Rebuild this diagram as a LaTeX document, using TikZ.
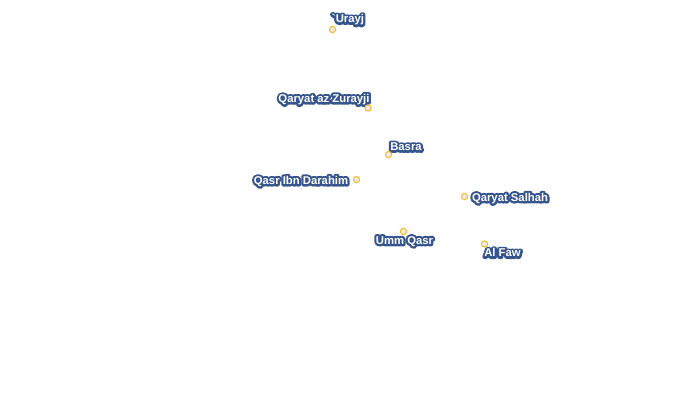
\documentclass[tikz,border=0pt]{standalone}
\usepackage{fontspec}
\setmainfont{Liberation Sans}[Ligatures=TeXOff]
\definecolor{ring}{HTML}{F7BC28}
\definecolor{dotfill}{HTML}{ECECF0}
% stroked copy under the white text
\newcommand{\placename}[1]{\rlap{\special{pdf:code q 1 Tr 4.5 w 1 j 1 J 0.212 0.333 0.549 RG 0.212 0.333 0.549 rg}#1\special{pdf:code 0 Tr Q}}#1}
\tikzset{
  town/.style={circle,draw=ring,fill=dotfill,line width=1.1pt,inner sep=0pt,minimum size=6.2pt},
  townlabel/.style={inner sep=0pt,text=white,font=\bfseries\fontsize{11.3}{12}\selectfont}
}
\begin{document}
\begin{tikzpicture}[x=1pt,y=-1pt]
      \useasboundingbox (0,0) rectangle (700,410);
      \draw
        (348,19.8) node[townlabel] (urayjlabel){\placename{`Urayj}}
        (324,99.5) node[townlabel] (zurayjilabel){\placename{Qaryat az Zurayji}}
        (406,146.8) node[townlabel] (basralabel){\placename{Basra}}
        (301,181.3) node[townlabel] (darahimlabel){\placename{Qasr Ibn Darahim}}
        (510,198.3) node[townlabel] (salhahlabel){\placename{Qaryat Salhah}}
        (404.5,241.3) node[townlabel] (ummqasrlabel){\placename{Umm Qasr}}
        (502.5,252.8) node[townlabel] (alfawlabel){\placename{Al Faw}};
      \draw
        (332.5,29.5) node[town] (urayj){}
        (368,108) node[town] (zurayji){}
        (388.5,154.5) node[town] (basra){}
        (356.5,179.5) node[town] (darahim){}
        (464.5,196.5) node[town] (salhah){}
        (403.5,231.5) node[town] (ummqasr){}
        (484.5,244) node[town] (alfaw){};
    \end{tikzpicture}
\end{document}
